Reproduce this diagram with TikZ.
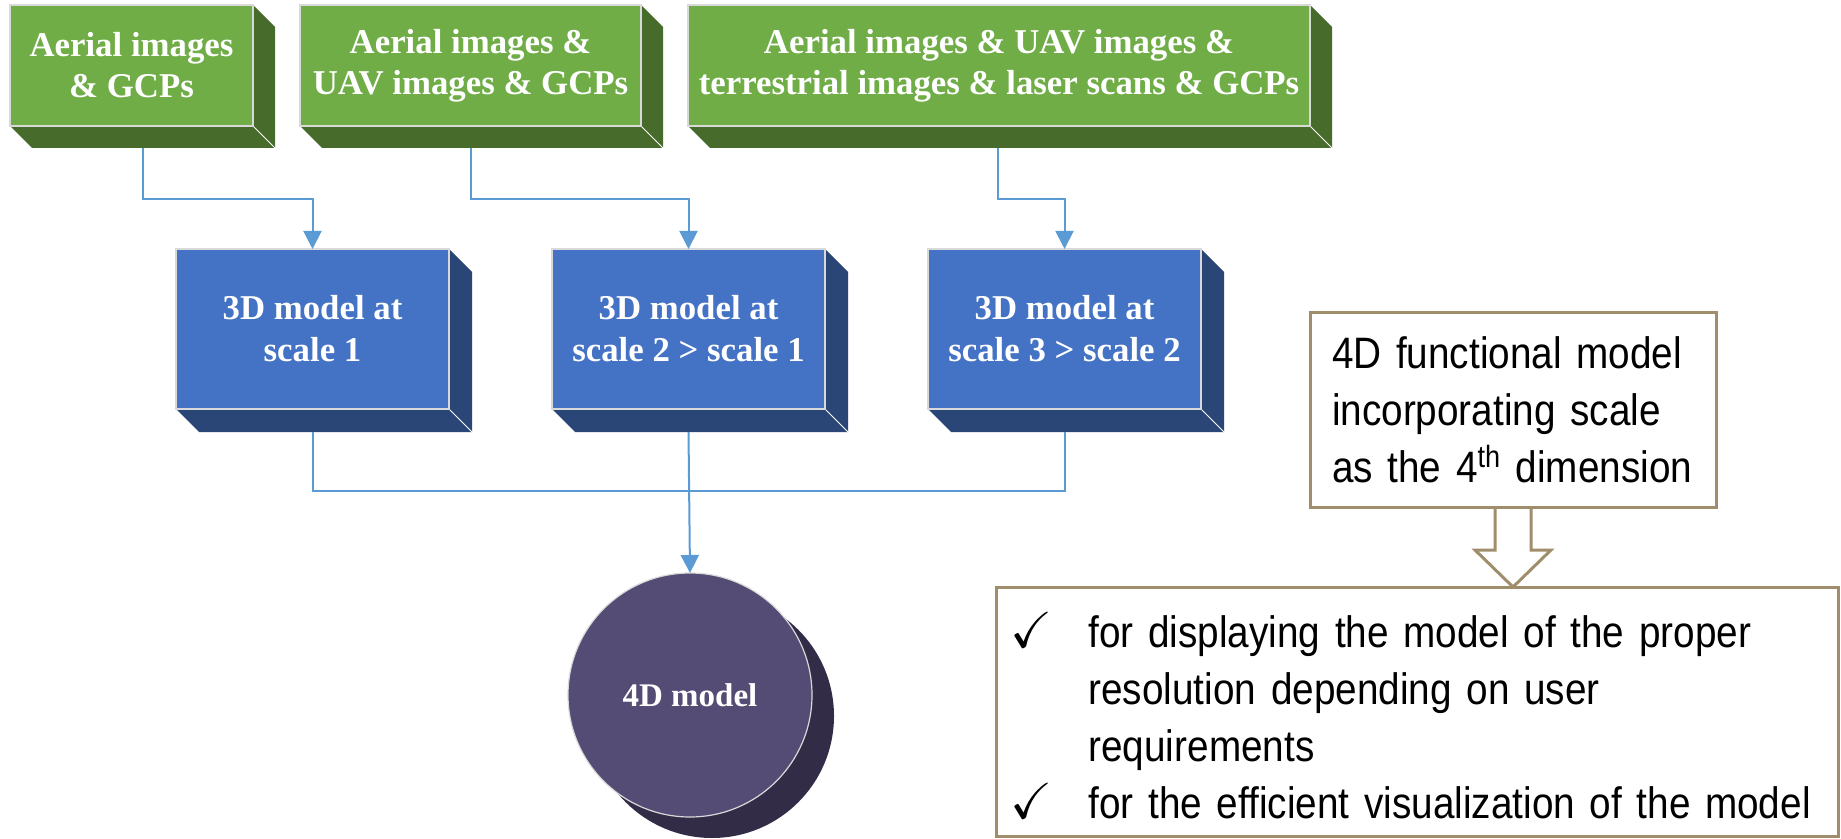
\documentclass[tikz,border=0pt]{standalone}
\usepackage{amssymb}
\usepackage{fontspec}
\setmainfont{Liberation Serif}
\newfontfamily\narrowsans[FakeStretch=0.88]{Liberation Sans}
\usetikzlibrary{arrows.meta,calc,backgrounds}
\definecolor{greenfront}{HTML}{70AD47}
\definecolor{greenside}{HTML}{466B2A}
\definecolor{bluefront}{HTML}{4472C4}
\definecolor{blueside}{HTML}{294677}
\definecolor{discfront}{HTML}{544C74}
\definecolor{discside}{HTML}{332C47}
\definecolor{linkblue}{HTML}{5B9BD5}
\definecolor{tanline}{HTML}{9F8D6B}
\newcommand{\ticked}{\makebox[35.5pt][l]{\hspace*{-3.5pt}\scalebox{1.15}{$\checkmark$}}}
\tikzset{
    slab/.style={draw=white!85!black,line width=0.6pt,inner sep=0pt,outer sep=0pt,
        align=center,text=white,font=\bfseries\fontsize{17.4}{20.5}\selectfont},
    inputbox/.style={slab,fill=greenfront,minimum height=60.5pt},
    modelbox/.style={slab,fill=bluefront,minimum width=136.5pt,minimum height=80pt,
        font=\bfseries\fontsize{17.4}{21}\selectfont},
    infobox/.style={draw=tanline,line width=1.5pt,outer sep=0pt,inner ysep=0pt,align=left,
        font=\narrowsans\fontsize{22}{28.5}\selectfont},
    wire/.style={draw=linkblue,line width=1pt},
    link/.style={wire,-{Triangle[width=9pt,length=9pt]}}
}
\begin{document}
\begin{tikzpicture}[x=0.5pt,y=-0.5pt]
    \useasboundingbox (0,0) rectangle (1841,839);
    \node[inputbox,minimum width=121.5pt] (g1) at (131.5,65.5) {Aerial images\\\& GCPs};
    \node[inputbox,minimum width=170.5pt] (g2) at (470.5,65.5) {Aerial images \&\\UAV images \& GCPs};
    \node[inputbox,minimum width=311pt] (g3) at (999,65.5) {Aerial images \& UAV images \&\\terrestrial images \& laser scans \& GCPs};
    \node[modelbox] (b1) at (312.5,329) {3D model at\\scale 1};
    \node[modelbox] (b2) at (688.5,329) {3D model at\\scale 2 > scale 1};
    \node[modelbox] (b3) at (1064.5,329) {3D model at\\scale 3 > scale 2};
    \node[slab,circle,fill=discfront,minimum size=122pt,font=\bfseries\fontsize{16.5}{20}\selectfont] (m4) at (690,695) {4D model};
    \node[infobox,text width=181pt,inner xsep=11pt,minimum height=97pt] (f1) at (1513,410)
        {4D functional model\\incorporating scale\\as the 4\textsuperscript{th} dimension};
    \node[infobox,text width=400pt,inner xsep=10.5pt,minimum height=124.5pt] (f2) at (1417.5,711.5)
        {\rule{0pt}{22pt}\ticked for displaying the model of the proper\\
         \hspace*{35.5pt}resolution depending on user\\
         \hspace*{35.5pt}requirements\\
         \ticked for the efficient visualization of the model};
    \begin{scope}[on background layer]
        \foreach \n/\c/\d in {g1/greenside/22,g2/greenside/22,g3/greenside/22,b1/blueside/23,b2/blueside/23,b3/blueside/23} {
            \fill[\c] (\n.north east) -- ++(\d,\d) -- ($(\n.south east)+(\d,\d)$)
                -- ($(\n.south west)+(\d,\d)$) -- (\n.south west) -- cycle;
            \draw[white,line width=0.5pt] (\n.south east) -- ++(\d,\d);
        }
        \fill[discside] ($(m4.center)+(22,21)$) circle (61pt);
    \end{scope}
    \draw[link] ($(g1.south)+(11.5,22)$) -- ++(0,51) -| (b1.north);
    \draw[link] ($(g2.south)+(0,22)$) -- ++(0,51) -| (b2.north);
    \draw[link] ($(g3.south)+(-1,22)$) -- ++(0,51) -| (b3.north);
    \draw[wire] ($(b1.south)+(0,23)$) -- ++(0,59) -| ($(b3.south)+(0,23)$);
    \draw[link] ($(b2.south)+(0,23)$) -- (m4.north);
    \draw[tanline,line width=1.5pt,line join=miter] ($(f1.south)+(-18,0)$) -- ++(0,43) -- ++(-20,0)
        -- (f1.south |- f2.north) -- ($(f1.south)+(38,43)$) -- ++(-20,0) -- ($(f1.south)+(18,0)$);
\end{tikzpicture}
\end{document}
